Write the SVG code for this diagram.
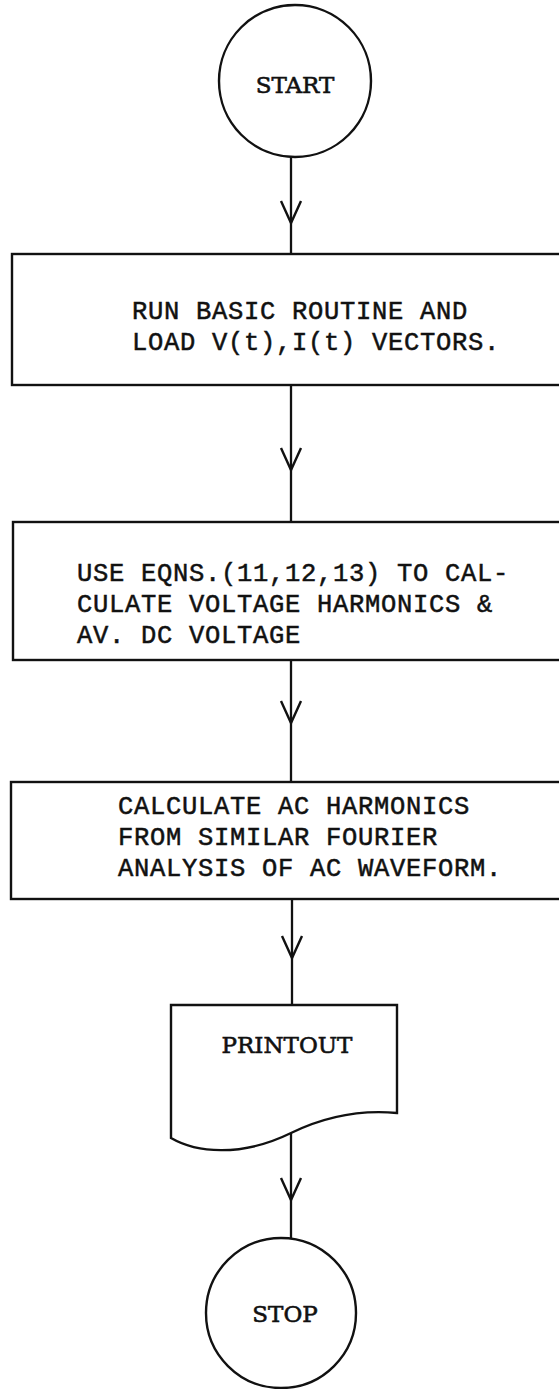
<svg xmlns="http://www.w3.org/2000/svg" width="559" height="1389" viewBox="0 0 559 1389">
  <style>
    .shape { fill: none; stroke: #111; stroke-width: 2.4; }
    .conn { fill: none; stroke: #111; stroke-width: 2.3; marker-mid: url(#vhead); }
    .mono { font-family: "Liberation Mono", "Courier New", monospace; font-size: 25.5px; letter-spacing: 0.7px; fill: #111; stroke: #111; stroke-width: 0.5; }
    .term { font-family: "DejaVu Serif", "Liberation Serif", serif; font-size: 23px; fill: #111; stroke: #111; stroke-width: 0.6; text-anchor: middle; }
  </style>
  <defs>
    <marker id="vhead" markerUnits="userSpaceOnUse" markerWidth="30" markerHeight="30" viewBox="-25 -15 30 30" refX="0" refY="0" orient="auto">
      <path d="M-22,-10 L0,0 L-22,10" fill="none" stroke="#111" stroke-width="2.4"/>
    </marker>
  </defs>
  <rect width="559" height="1389" fill="#fff"/>

  <g id="connectors">
    <path class="conn" d="M291,157 L291,223 L291,254"/>
    <path class="conn" d="M291,385 L291,470 L291,522"/>
    <path class="conn" d="M291,660 L291,723 L291,782"/>
    <path class="conn" d="M292,899 L292,958 L292,1005"/>
    <path class="conn" d="M291,1133 L291,1200 L291,1239"/>
  </g>

  <g id="start">
    <circle class="shape" cx="295" cy="81" r="76"/>
    <text class="term" x="295" y="93">START</text>
  </g>

  <g id="load-vectors">
    <rect class="shape" x="12" y="254" width="570" height="131"/>
    <text class="mono" x="132" y="319">RUN BASIC ROUTINE AND</text>
    <text class="mono" x="132" y="350">LOAD V(t),I(t) VECTORS.</text>
  </g>

  <g id="voltage-harmonics">
    <rect class="shape" x="13" y="522" width="570" height="138"/>
    <text class="mono" x="77" y="581">USE EQNS.(11,12,13) TO CAL-</text>
    <text class="mono" x="77" y="612">CULATE VOLTAGE HARMONICS &amp;</text>
    <text class="mono" x="77" y="643">AV. DC VOLTAGE</text>
  </g>

  <g id="ac-harmonics">
    <rect class="shape" x="11" y="782" width="570" height="117"/>
    <text class="mono" x="118" y="814">CALCULATE AC HARMONICS</text>
    <text class="mono" x="118" y="845">FROM SIMILAR FOURIER</text>
    <text class="mono" x="118" y="876">ANALYSIS OF AC WAVEFORM.</text>
  </g>

  <g id="printout">
    <path class="shape" d="M171,1138 L171,1005 L397,1005 L397,1113 C365,1110 330,1114 291,1133 C240,1158 195,1152 171,1138 Z"/>
    <text class="term" x="287" y="1053">PRINTOUT</text>
  </g>

  <g id="stop">
    <circle class="shape" cx="281" cy="1313" r="75"/>
    <text class="term" x="285" y="1322">STOP</text>
  </g>
</svg>
